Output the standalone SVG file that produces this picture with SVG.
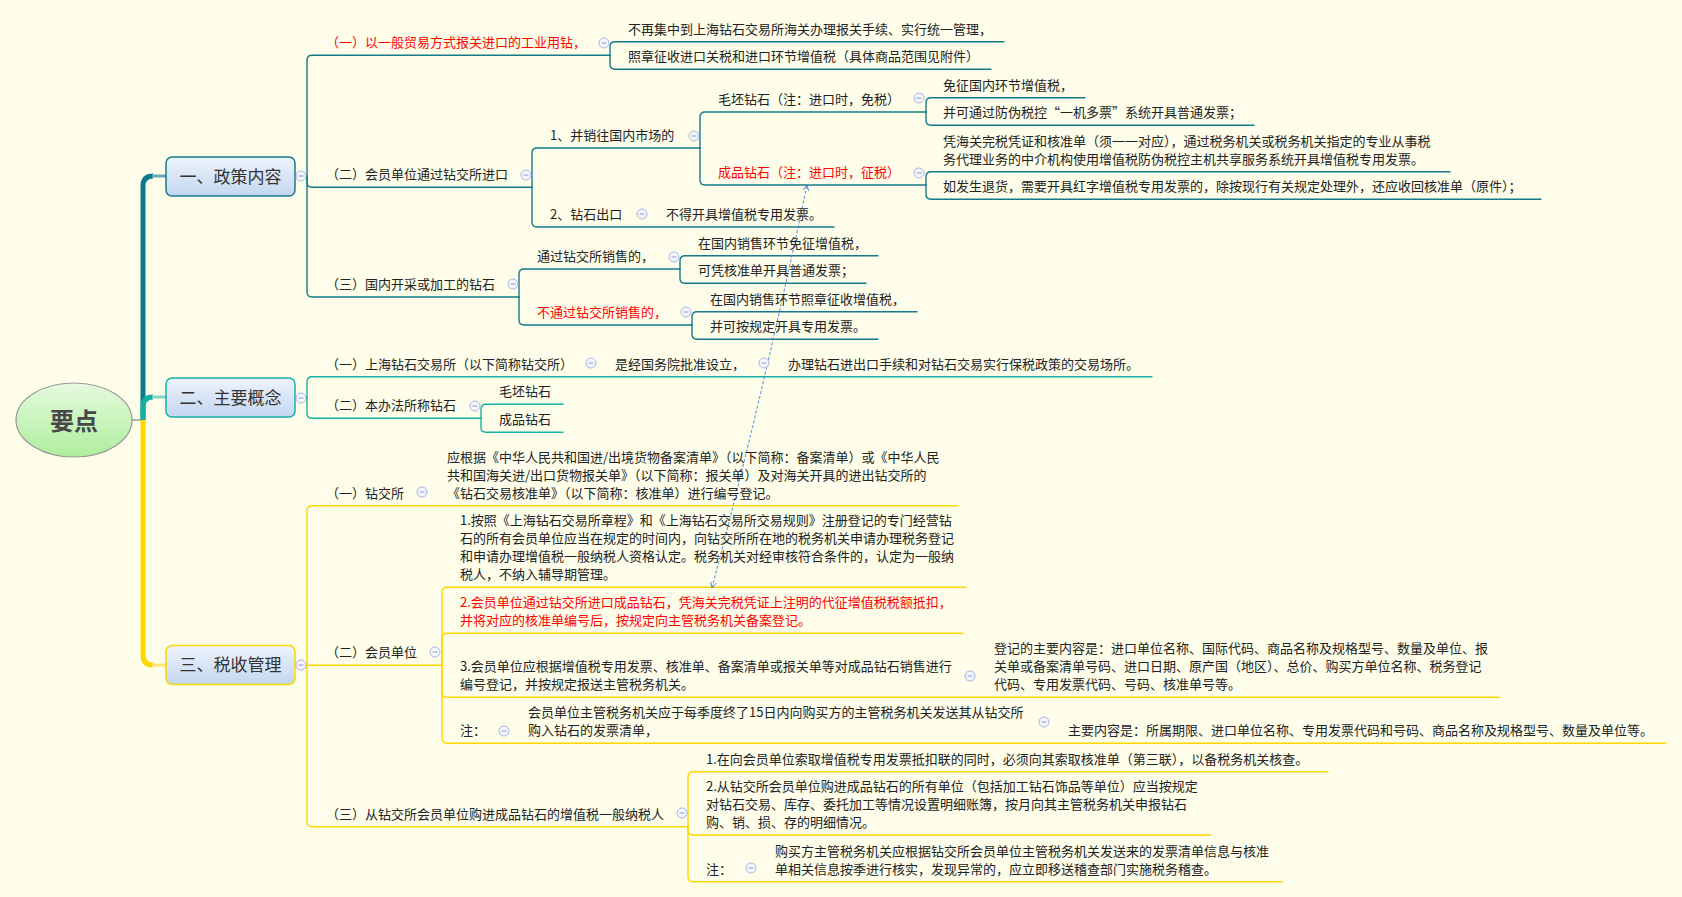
<svg xmlns="http://www.w3.org/2000/svg" xmlns:xlink="http://www.w3.org/1999/xlink" width="1682" height="897" viewBox="0 0 1682 897">
<defs>
<style>
.t{font-family:"Noto Sans CJK SC","Noto Sans",sans-serif;font-size:13px;fill:#222}
.r{fill:#ff0000}
.h{font-family:"Noto Sans CJK SC","Noto Sans",sans-serif;font-size:17px;fill:#333;text-anchor:middle}
.c{fill:none;stroke-width:1.4;stroke-linecap:round}
.b1{stroke:#17798A}
.b2{stroke:#16B1A2}
.b3{stroke:#FFD700}
.box{stroke-width:1.5}
</style>
<linearGradient id="gb" x1="0" y1="0" x2="0" y2="1"><stop offset="0" stop-color="#EEF4FC"/><stop offset="1" stop-color="#C3D6F0"/></linearGradient>
<linearGradient id="gg" x1="0" y1="0" x2="0" y2="1"><stop offset="0" stop-color="#E6FADF"/><stop offset="1" stop-color="#AEEE9C"/></linearGradient>
<g id="cm"><circle r="5" fill="#F5F6FD" stroke="#A9B5E2" stroke-width="1"/><path d="M-2.5 0H2.5" stroke="#8A98D6" stroke-width="1"/></g>
<marker id="ar" viewBox="0 0 10 10" refX="9" refY="5" markerWidth="7" markerHeight="7" orient="auto-start-reverse" markerUnits="userSpaceOnUse"><path d="M1 1L9 5L1 9" fill="none" stroke="#4C82E0" stroke-width="1.3"/></marker>
</defs>
<rect width="1682" height="897" fill="#FDFDE9"/>

<g id="connectors">
<path d="M132 420H143" stroke="#999" stroke-width="1.5" fill="none"/>
<path d="M143 420V186Q143 176 153 176" stroke="#0B7A8C" stroke-width="5" fill="none"/>
<path d="M152 176H167" stroke="#5FAAB4" stroke-width="3" fill="none"/>
<path d="M143 420V407Q143 397 153 397" stroke="#12B0A0" stroke-width="5" fill="none"/>
<path d="M152 397H167" stroke="#7FD6CA" stroke-width="3" fill="none"/>
<path d="M143 420V655Q143 665 153 665" stroke="#FFD700" stroke-width="5" fill="none"/>
<path d="M152 665H167" stroke="#FFE670" stroke-width="3" fill="none"/>

<g class="c b1">
<path d="M295 176H307"/>
<path d="M307 176V60.3Q307 55.3 312 55.3H610"/>
<path d="M307 176V182.3Q307 187.3 312 187.3H532"/>
<path d="M307 176V292Q307 297 312 297H519"/>
<path d="M610 55.3V46.7Q610 41.7 615 41.7H1004"/>
<path d="M610 55.3V64.3Q610 69.3 615 69.3H991"/>
<path d="M532 187.3V153Q532 148 537 148H700"/>
<path d="M532 187.3V222Q532 227 537 227H834"/>
<path d="M700 148V117Q700 112 705 112H926"/>
<path d="M700 148V180Q700 185 705 185H926"/>
<path d="M926 112V102.7Q926 97.7 931 97.7H1085"/>
<path d="M926 112V120.3Q926 125.3 931 125.3H1254"/>
<path d="M926 185V176.7Q926 171.7 931 171.7H1450"/>
<path d="M926 185V194.3Q926 199.3 931 199.3H1541"/>
<path d="M519 297V274Q519 269 524 269H680"/>
<path d="M519 297V320Q519 325 524 325H692"/>
<path d="M680 269V260.7Q680 255.7 685 255.7H878"/>
<path d="M680 269V278.3Q680 283.3 685 283.3H866"/>
<path d="M692 325V316.7Q692 311.7 697 311.7H917"/>
<path d="M692 325V334.3Q692 339.3 697 339.3H878"/>
</g>
<g class="c b2">
<path d="M295 398H307"/>
<path d="M307 398V381.7Q307 376.7 312 376.7H1152"/>
<path d="M307 398V413.3Q307 418.3 312 418.3H481"/>
<path d="M481 418.3V409.3Q481 404.3 486 404.3H563"/>
<path d="M481 418.3V427.3Q481 432.3 486 432.3H563"/>
</g>
<g class="c b3">
<path d="M295 665H307"/>
<path d="M307 665V510.7Q307 505.7 312 505.7H958"/>
<path d="M307 665.3H442"/>
<path d="M307 665V821.7Q307 826.7 312 826.7H688"/>
<path d="M442 665.3V592.3Q442 587.3 447 587.3H966"/>
<path d="M442 665.3V638.3Q442 633.3 447 633.3H963"/>
<path d="M442 665.3V692.3Q442 697.3 447 697.3H1500"/>
<path d="M442 665.3V738.3Q442 743.3 447 743.3H1666"/>
<path d="M688 826.7V776.7Q688 771.7 693 771.7H1328"/>
<path d="M688 826.7V830Q688 835 693 835H1211"/>
<path d="M688 826.7V876.7Q688 881.7 693 881.7H1282"/>
</g>
<path d="M712 588Q764 390 807 185" fill="none" stroke="#4C82E0" stroke-width="1" stroke-dasharray="3,2" marker-start="url(#ar)" marker-end="url(#ar)"/>
</g>

<g id="root">
<ellipse cx="74" cy="420" rx="58" ry="37" fill="url(#gg)" stroke="#999" stroke-width="1.2"/>
<text x="74" y="430" text-anchor="middle" style="font-family:'Noto Sans CJK SC','Noto Sans',sans-serif;font-size:24px;font-weight:bold;fill:#484848">要点</text>
</g>

<g id="n1">
<rect class="box" x="166" y="157" width="129" height="39" rx="6" fill="url(#gb)" stroke="#17798A"/>
<text class="h" x="230.5" y="182.5">一、政策内容</text>
<use href="#cm" x="301" y="176"/>
</g>
<g id="n2">
<rect class="box" x="166" y="378" width="129" height="39" rx="6" fill="url(#gb)" stroke="#16B1A2"/>
<text class="h" x="230.5" y="403.5">二、主要概念</text>
<use href="#cm" x="301" y="398"/>
</g>
<g id="n3">
<rect class="box" x="166" y="645.5" width="129" height="39" rx="6" fill="url(#gb)" stroke="#FFD700"/>
<text class="h" x="230.5" y="671">三、税收管理</text>
<use href="#cm" x="301" y="665"/>
</g>

<g id="n1-1"><text class="t r" x="326" y="47.3">（一）以一般贸易方式报关进口的工业用钻，</text><use href="#cm" x="604" y="43"/></g>
<g id="n1-1a"><text class="t" x="628" y="33.7">不再集中到上海钻石交易所海关办理报关手续、实行统一管理，</text></g>
<g id="n1-1b"><text class="t" x="628" y="61.3">照章征收进口关税和进口环节增值税（具体商品范围见附件）</text></g>
<g id="n1-2"><text class="t" x="326" y="179.3">（二）会员单位通过钻交所进口</text><use href="#cm" x="526" y="175"/></g>
<g id="n1-2-1"><text class="t" x="550" y="140">1、并销往国内市场的</text><use href="#cm" x="694" y="136"/></g>
<g id="n1-2-1a"><text class="t" x="718" y="104">毛坯钻石（注：进口时，免税）</text><use href="#cm" x="919" y="98"/></g>
<g id="n1-2-1a1"><text class="t" x="943" y="89.7">免征国内环节增值税，</text></g>
<g id="n1-2-1a2"><text class="t" x="943" y="117.3">并可通过防伪税控“一机多票”系统开具普通发票；</text></g>
<g id="n1-2-1b"><text class="t r" x="718" y="177">成品钻石（注：进口时，征税）</text><use href="#cm" x="919" y="173"/></g>
<g id="n1-2-1b1"><text class="t" x="943" y="145.7">凭海关完税凭证和核准单（须一一对应），通过税务机关或税务机关指定的专业从事税</text><text class="t" x="943" y="163.7">务代理业务的中介机构使用增值税防伪税控主机共享服务系统开具增值税专用发票。</text></g>
<g id="n1-2-1b2"><text class="t" x="943" y="191.3">如发生退货，需要开具红字增值税专用发票的，除按现行有关规定处理外，还应收回核准单（原件）；</text></g>
<g id="n1-2-2"><text class="t" x="550" y="219">2、钻石出口</text><use href="#cm" x="642" y="214"/></g>
<g id="n1-2-2a"><text class="t" x="666" y="219">不得开具增值税专用发票。</text></g>
<g id="n1-3"><text class="t" x="326" y="289">（三）国内开采或加工的钻石</text><use href="#cm" x="513" y="284"/></g>
<g id="n1-3-1"><text class="t" x="537" y="261">通过钻交所销售的，</text><use href="#cm" x="674" y="257"/></g>
<g id="n1-3-1a"><text class="t" x="698" y="247.7">在国内销售环节免征增值税，</text></g>
<g id="n1-3-1b"><text class="t" x="698" y="275.3">可凭核准单开具普通发票；</text></g>
<g id="n1-3-2"><text class="t r" x="537" y="317">不通过钻交所销售的，</text><use href="#cm" x="686" y="312"/></g>
<g id="n1-3-2a"><text class="t" x="710" y="303.7">在国内销售环节照章征收增值税，</text></g>
<g id="n1-3-2b"><text class="t" x="710" y="331.3">并可按规定开具专用发票。</text></g>

<g id="n2-1"><text class="t" x="326" y="368.7">（一）上海钻石交易所（以下简称钻交所）</text><use href="#cm" x="591" y="363"/></g>
<g id="n2-1a"><text class="t" x="615" y="368.7">是经国务院批准设立，</text><use href="#cm" x="764" y="363"/></g>
<g id="n2-1b"><text class="t" x="788" y="368.7">办理钻石进出口手续和对钻石交易实行保税政策的交易场所。</text></g>
<g id="n2-2"><text class="t" x="326" y="410.3">（二）本办法所称钻石</text><use href="#cm" x="475" y="406"/></g>
<g id="n2-2a"><text class="t" x="499" y="396.3">毛坯钻石</text></g>
<g id="n2-2b"><text class="t" x="499" y="424.3">成品钻石</text></g>

<g id="n3-1"><text class="t" x="326" y="497.7">（一）钻交所</text><use href="#cm" x="422" y="492"/></g>
<g id="n3-1a"><text class="t" x="447" y="461.7">应根据《中华人民共和国进/出境货物备案清单》（以下简称：备案清单）或《中华人民</text><text class="t" x="447" y="479.7">共和国海关进/出口货物报关单》（以下简称：报关单）及对海关开具的进出钻交所的</text><text class="t" x="447" y="497.7">《钻石交易核准单》（以下简称：核准单）进行编号登记。</text></g>
<g id="n3-2"><text class="t" x="326" y="657.3">（二）会员单位</text><use href="#cm" x="435" y="652"/></g>
<g id="n3-2-1"><text class="t" x="460" y="525.3">1.按照《上海钻石交易所章程》和《上海钻石交易所交易规则》注册登记的专门经营钻</text><text class="t" x="460" y="543.3">石的所有会员单位应当在规定的时间内，向钻交所所在地的税务机关申请办理税务登记</text><text class="t" x="460" y="561.3">和申请办理增值税一般纳税人资格认定。税务机关对经审核符合条件的，认定为一般纳</text><text class="t" x="460" y="579.3">税人，不纳入辅导期管理。</text></g>
<g id="n3-2-2"><text class="t r" x="460" y="607.3">2.会员单位通过钻交所进口成品钻石，凭海关完税凭证上注明的代征增值税税额抵扣，</text><text class="t r" x="460" y="625.3">并将对应的核准单编号后，按规定向主管税务机关备案登记。</text></g>
<g id="n3-2-3"><text class="t" x="460" y="671.3">3.会员单位应根据增值税专用发票、核准单、备案清单或报关单等对成品钻石销售进行</text><text class="t" x="460" y="689.3">编号登记，并按规定报送主管税务机关。</text><use href="#cm" x="970" y="676"/></g>
<g id="n3-2-3a"><text class="t" x="994" y="653.3">登记的主要内容是：进口单位名称、国际代码、商品名称及规格型号、数量及单位、报</text><text class="t" x="994" y="671.3">关单或备案清单号码、进口日期、原产国（地区）、总价、购买方单位名称、税务登记</text><text class="t" x="994" y="689.3">代码、专用发票代码、号码、核准单号等。</text></g>
<g id="n3-2-4"><text class="t" x="460" y="735.3">注：</text><use href="#cm" x="504" y="731"/></g>
<g id="n3-2-4a"><text class="t" x="528" y="717.3">会员单位主管税务机关应于每季度终了15日内向购买方的主管税务机关发送其从钻交所</text><text class="t" x="528" y="735.3">购入钻石的发票清单，</text><use href="#cm" x="1044" y="722"/></g>
<g id="n3-2-4b"><text class="t" x="1068" y="735.3">主要内容是：所属期限、进口单位名称、专用发票代码和号码、商品名称及规格型号、数量及单位等。</text></g>
<g id="n3-3"><text class="t" x="326" y="818.7">（三）从钻交所会员单位购进成品钻石的增值税一般纳税人</text><use href="#cm" x="682" y="813"/></g>
<g id="n3-3-1"><text class="t" x="706" y="763.7">1.在向会员单位索取增值税专用发票抵扣联的同时，必须向其索取核准单（第三联），以备税务机关核查。</text></g>
<g id="n3-3-2"><text class="t" x="706" y="791">2.从钻交所会员单位购进成品钻石的所有单位（包括加工钻石饰品等单位）应当按规定</text><text class="t" x="706" y="809">对钻石交易、库存、委托加工等情况设置明细账簿，按月向其主管税务机关申报钻石</text><text class="t" x="706" y="827">购、销、损、存的明细情况。</text></g>
<g id="n3-3-3"><text class="t" x="706" y="873.7">注：</text><use href="#cm" x="751" y="868"/></g>
<g id="n3-3-3a"><text class="t" x="775" y="855.7">购买方主管税务机关应根据钻交所会员单位主管税务机关发送来的发票清单信息与核准</text><text class="t" x="775" y="873.7">单相关信息按季进行核实，发现异常的，应立即移送稽查部门实施税务稽查。</text></g>
</svg>
